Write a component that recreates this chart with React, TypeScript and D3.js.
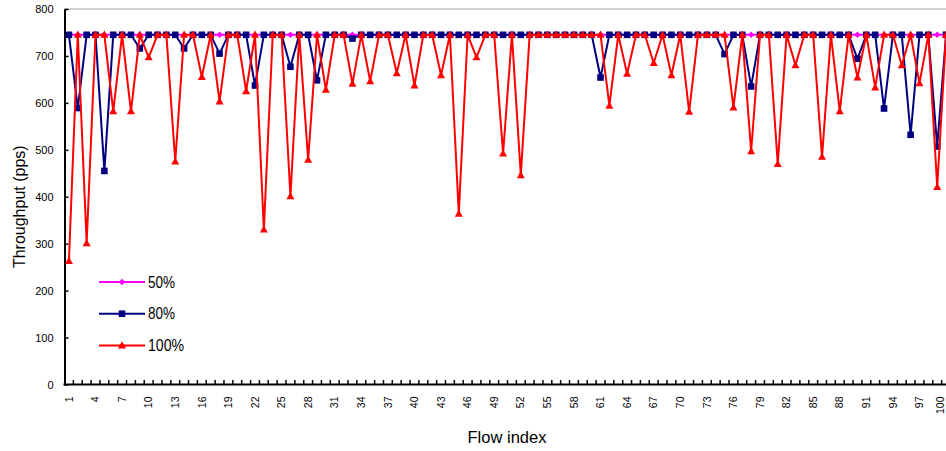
import React, { useEffect, useRef } from 'react';
import * as d3 from 'd3';

const flows: number[] = d3.range(1, 101);

const load50: number[] = [
  745, 745, 745, 745, 745, 745, 745, 745, 745, 745,
  745, 745, 745, 745, 745, 745, 745, 745, 745, 745,
  745, 745, 745, 745, 745, 745, 745, 745, 745, 745,
  745, 745, 745, 745, 745, 745, 745, 745, 745, 745,
  745, 745, 745, 745, 745, 745, 745, 745, 745, 745,
  745, 745, 745, 745, 745, 745, 745, 745, 745, 745,
  745, 745, 745, 745, 745, 745, 745, 745, 745, 745,
  745, 745, 745, 745, 745, 745, 745, 745, 745, 745,
  745, 745, 745, 745, 745, 745, 745, 745, 745, 745,
  745, 745, 745, 745, 745, 745, 745, 745, 745, 745,
];

const load80: number[] = [
  745, 589, 745, 745, 455, 745, 745, 745, 716, 745,
  745, 745, 745, 716, 745, 745, 745, 705, 745, 745,
  745, 637, 745, 745, 745, 677, 745, 745, 648, 745,
  745, 745, 737, 745, 745, 745, 745, 745, 745, 745,
  745, 745, 745, 745, 745, 745, 745, 745, 745, 745,
  745, 745, 745, 745, 745, 745, 745, 745, 745, 745,
  654, 745, 745, 745, 745, 745, 745, 745, 745, 745,
  745, 745, 745, 745, 704, 745, 745, 635, 745, 745,
  745, 745, 745, 745, 745, 745, 745, 745, 745, 694,
  745, 745, 588, 745, 745, 532, 745, 745, 507, 745,
];

const load100: number[] = [
  263, 745, 301, 745, 745, 582, 745, 582, 745, 697,
  745, 745, 475, 745, 745, 655, 745, 603, 745, 745,
  625, 745, 330, 745, 745, 401, 745, 479, 745, 628,
  745, 745, 641, 745, 646, 745, 745, 663, 745, 637,
  745, 745, 659, 745, 364, 745, 697, 745, 745, 492,
  745, 446, 745, 745, 745, 745, 745, 745, 745, 745,
  745, 594, 745, 662, 745, 745, 685, 745, 659, 745,
  581, 745, 745, 745, 745, 590, 745, 497, 745, 745,
  470, 745, 680, 745, 745, 485, 745, 582, 745, 654,
  745, 633, 745, 745, 680, 745, 642, 745, 421, 745,
];

const yTicks: number[] = [0, 100, 200, 300, 400, 500, 600, 700, 800];
const xTickLabels: number[] = d3.range(1, 101, 3);

const series = [
  { name: '50%', values: load50, color: '#FF00FF', marker: 'diamond' },
  { name: '80%', values: load80, color: '#000080', marker: 'square' },
  { name: '100%', values: load100, color: '#FF0000', marker: 'triangle' },
];

const FONT = '"Liberation Sans", Arial, sans-serif';

const App = () => {
  const svgRef = useRef<SVGSVGElement>(null);

  useEffect(() => {
    const width = 946;
    const height = 451;
    const margin = { top: 9, left: 64.5, bottom: 384.5 };

    const svg = d3.select(svgRef.current);
    svg.selectAll('*').remove();
    svg.attr('width', width).attr('height', height);

    const x = d3.scaleBand<number>()
      .domain(flows)
      .range([margin.left, margin.left + 100 * 8.86])
      .padding(0);
    const cx = (f: number) => (x(f) as number) + x.bandwidth() / 2;

    const y = d3.scaleLinear().domain([0, 800]).range([margin.bottom, margin.top]);
    const xr = x.range();

    // light top gridline at 800
    svg.append('line')
      .attr('x1', margin.left).attr('x2', xr[1])
      .attr('y1', y(800)).attr('y2', y(800))
      .attr('stroke', '#a0a0a0').attr('stroke-width', 1);

    // Y axis (ticks inside)
    const yAxis = svg.append('g')
      .attr('transform', `translate(${margin.left},0)`)
      .call(d3.axisLeft(y).tickValues(yTicks).tickSizeInner(-4).tickSizeOuter(0).tickPadding(11));
    yAxis.select('.domain').attr('stroke', '#000').attr('stroke-width', 2);
    yAxis.selectAll('.tick line').attr('stroke', '#000').attr('stroke-width', 1.5);
    yAxis.selectAll('.tick text')
      .style('font-family', FONT)
      .style('font-size', '11px')
      .attr('fill', '#000');

    // X axis line and boundary ticks
    svg.append('line')
      .attr('x1', xr[0] - 1).attr('x2', xr[1])
      .attr('y1', margin.bottom).attr('y2', margin.bottom)
      .attr('stroke', '#000').attr('stroke-width', 2);

    svg.append('g').selectAll('line')
      .data(flows.slice(1).concat([101]))
      .join('line')
      .attr('x1', (d) => (d === 101 ? xr[1] : (x(d) as number)))
      .attr('x2', (d) => (d === 101 ? xr[1] : (x(d) as number)))
      .attr('y1', margin.bottom)
      .attr('y2', margin.bottom - 4.5)
      .attr('stroke', '#000')
      .attr('stroke-width', 1.5);

    // last label is pulled in so it stays on the page
    svg.append('g').selectAll('text')
      .data(xTickLabels)
      .join('text')
      .attr('transform', (d) => `translate(${Math.min(cx(d), 940)},${margin.bottom + 12}) rotate(-90)`)
      .attr('text-anchor', 'end')
      .attr('dy', '0.35em')
      .style('font-family', FONT)
      .style('font-size', '10.5px')
      .text((d) => d);

    // Axis titles
    svg.append('text')
      .attr('transform', `translate(25,${(margin.top + margin.bottom) / 2 + 10}) rotate(-90)`)
      .attr('text-anchor', 'middle')
      .style('font-family', FONT)
      .style('font-size', '16px')
      .text('Throughput (pps)');

    svg.append('text')
      .attr('x', 507)
      .attr('y', 443)
      .attr('text-anchor', 'middle')
      .style('font-family', FONT)
      .style('font-size', '17px')
      .attr('textLength', 79)
      .attr('lengthAdjust', 'spacingAndGlyphs')
      .text('Flow index');

    const drawMarker = (g: any, marker: string, color: string) => {
      if (marker === 'square') {
        g.append('rect').attr('x', -3.3).attr('y', -3.3).attr('width', 6.6).attr('height', 6.6).attr('fill', color);
      } else if (marker === 'triangle') {
        g.append('path').attr('d', 'M0,-4.2L4,3L-4,3Z').attr('fill', color);
      } else {
        g.append('path').attr('d', 'M0,-3.2L3.2,0L0,3.2L-3.2,0Z').attr('fill', color);
      }
    };

    const plot = svg.append('g');
    const line = d3.line<number>()
      .x((_, i) => cx(flows[i]))
      .y((d) => y(d));

    series.forEach((s) => {
      plot.append('path')
        .datum(s.values)
        .attr('d', line)
        .attr('fill', 'none')
        .attr('stroke', s.color)
        .attr('stroke-width', 2)
        .attr('stroke-linejoin', 'round');
      s.values.forEach((v, i) => {
        const g = plot.append('g').attr('transform', `translate(${cx(flows[i])},${y(v)})`);
        drawMarker(g, s.marker, s.color);
      });
    });

    // Legend
    const legend = svg.append('g');
    series.forEach((s, i) => {
      const ly = 282 + i * 31.7;
      legend.append('line')
        .attr('x1', 99).attr('x2', 145)
        .attr('y1', ly).attr('y2', ly)
        .attr('stroke', s.color).attr('stroke-width', 2);
      const g = legend.append('g').attr('transform', `translate(122,${ly})`);
      drawMarker(g, s.marker, s.color);
      legend.append('text')
        .attr('x', 148)
        .attr('y', ly + 5.5)
        .style('font-family', FONT)
        .style('font-size', '16px')
        .attr('textLength', s.name.length * 9)
        .attr('lengthAdjust', 'spacingAndGlyphs')
        .text(s.name);
    });
  }, []);

  return (
    <svg
      ref={svgRef}
      style={{ position: 'absolute', left: 0, top: 0, background: '#fff' }}
    />
  );
};

export default App;
